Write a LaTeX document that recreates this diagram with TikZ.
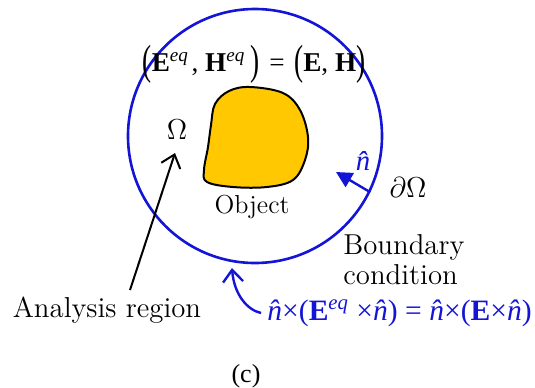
\documentclass[tikz,border=0pt]{standalone}
\usepackage{graphicx}
\usepackage{fontspec}
\newfontfamily\tms{Liberation Serif}
\usetikzlibrary{arrows.meta}
\definecolor{bcblue}{RGB}{20,20,215}
\definecolor{objyellow}{RGB}{255,200,0}
\newcommand{\tallp}[1]{\raisebox{-0.08em}{\scalebox{1}[1.55]{#1}}}
\newcommand{\eqs}{\textsuperscript{\itshape eq}}
\newcommand{\nht}{{\itshape\^{n}}}
\tikzset{
  lbl/.style={inner sep=0pt, font=\fontsize{14.4}{15}\selectfont},
  barb/.style={-{Straight Barb[length=6pt,width=10pt,line width=1pt]}, line width=1pt},
}
\begin{document}
\begin{tikzpicture}[x=0.5pt,y=-0.5pt]
\useasboundingbox (0,0) rectangle (535,387);
% boundary circle
\node[circle, draw=bcblue, line width=1.3pt, minimum size=127pt, inner sep=0pt] (bound) at (255,136) {};
% object
\filldraw[fill=objyellow, draw=black, line width=1pt]
  plot[smooth cycle, tension=0.6] coordinates {(250,87) (283,93) (300,110) (308,137) (305,160) (293,180) (267,187) (233,187) (207,182) (204,170) (208,147) (211,125) (215,104) (229,91)};
% texts
\node[lbl, font=\fontsize{13.6}{15}\selectfont\tms] (eqtop) at (254,64) {\tallp(\textbf{E}\eqs\kern0.1em, \textbf{H}\eqs\kern0.2em\tallp)\kern0.1em\ =\kern0.1em\ \tallp(\textbf{E}, \textbf{H}\tallp)};
\node[lbl] (omega) at (177,130) {$\Omega$};
\node[lbl, font=\fontsize{13}{15}\selectfont] (obj) at (252,207) {Object};
\node[lbl, text=bcblue, font=\fontsize{14.4}{15}\selectfont\tms] (nhat) at (363,161) {\nht};
\node[lbl] (domega) at (408,187) {$\partial\Omega$};
\node[lbl, align=left, anchor=west] (bc) at (343,260) {Boundary\\condition};
\node[lbl] (ar) at (107,310) {Analysis region};
\node[lbl, text=bcblue, anchor=west, font=\fontsize{14.8}{15}\selectfont\tms] (eqbc) at (267,313) {\nht×(\textbf{E}\eqs\ ×\nht) = \nht×(\textbf{E}×\nht)};
\node[lbl, font=\fontsize{13}{14}\selectfont\tms] (cap) at (246,376) {(c)};
% connectors
\coordinate (arstart) at (130,290);
\coordinate (omtip) at (175,153);
\draw[barb] (arstart) -- (omtip);
\draw[bcblue, line width=1.2pt, -{Triangle[length=8pt,width=8pt]}] (bound.-26.6) -- (336,172);
\coordinate (bctip) at (232,268);
\draw[bcblue, line width=1.2pt, -{Straight Barb[length=6pt,width=10pt,line width=1.2pt]}]
  ([xshift=-3pt]eqbc.west) .. controls +(-14,-3) and +(2,26) .. (bctip);
\end{tikzpicture}
\end{document}
